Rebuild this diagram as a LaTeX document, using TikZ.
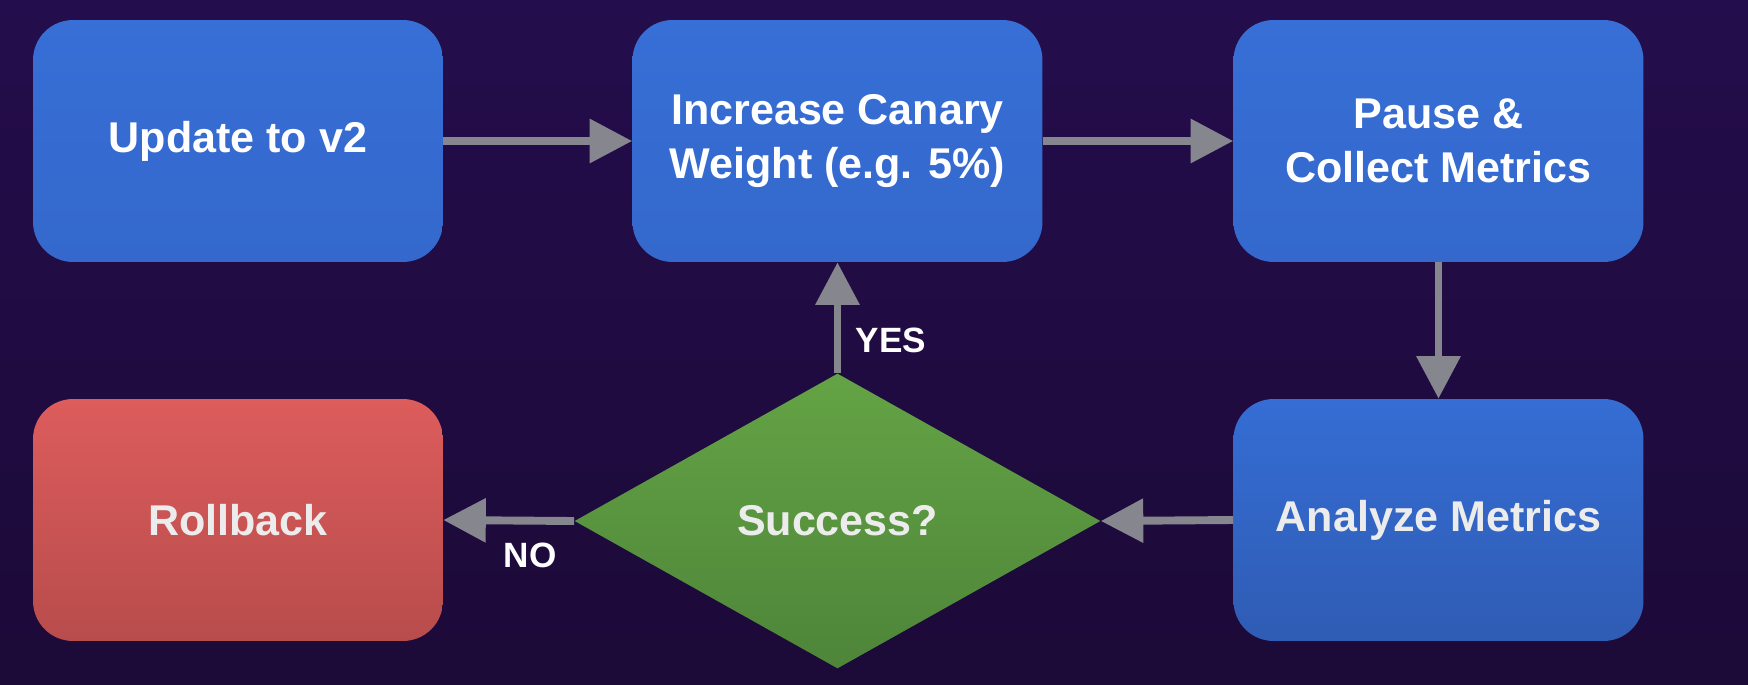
\documentclass[tikz,border=0pt]{standalone}
\usepackage{fontspec}
\setmainfont{Liberation Sans}
\usetikzlibrary{shapes.geometric,arrows.meta}
\definecolor{bgtop}{HTML}{240D4C}
\definecolor{bgbot}{HTML}{1C0A38}
\definecolor{blueT}{HTML}{376FD6}
\definecolor{blueB}{HTML}{3468CC}
\definecolor{blue2T}{HTML}{356DD4}
\definecolor{blue2B}{HTML}{2F5CB4}
\definecolor{redT}{HTML}{DD5C5C}
\definecolor{redB}{HTML}{B84C4C}
\definecolor{greenT}{HTML}{64A345}
\definecolor{greenB}{HTML}{4E8539}
\definecolor{arrowgray}{HTML}{85868E}
\definecolor{softwhite}{HTML}{ECECEC}
\begin{document}
\begin{tikzpicture}[x=0.02cm,y=-0.02cm,
  box/.style={rounded corners=0.8cm, minimum width=8.2cm, minimum height=4.84cm,
    align=center, inner sep=0pt, font=\fontsize{24.5}{31}\selectfont\bfseries, text=white},
  bluebox/.style={box, top color=blueT, bottom color=blueB},
  darkbluebox/.style={box, top color=blue2T, bottom color=blue2B, text=softwhite},
  redbox/.style={box, top color=redT, bottom color=redB, text=softwhite},
  decision/.style={diamond, minimum width=10.52cm, minimum height=5.9cm, inner sep=0pt,
    top color=greenT, bottom color=greenB, text=softwhite,
    font=\fontsize{24.5}{31}\selectfont\bfseries},
  flow/.style={draw=arrowgray, line width=4.5pt, -{Triangle[length=0.85cm,width=0.85cm]}},
  lbl/.style={text=white, font=\fontsize{20}{24}\selectfont\bfseries, inner sep=0pt}
]
\fill[top color=bgtop, bottom color=bgbot] (0,0) rectangle (1748,684);
\useasboundingbox (0,0) rectangle (1748,684);

\node[bluebox] (update) at (238,141) {Update to v2};
\node[bluebox] (increase) at (837.5,141) {Increase Canary\\Weight (e.g. 5\%)};
\node[bluebox] (pause) at (1438.5,141) {Pause \&\\Collect Metrics};
\node[darkbluebox] (analyze) at (1438.5,520) {Analyze Metrics};
\node[redbox] (rollback) at (238,520) {Rollback};
\node[decision] (success) at (837.5,521) {Success?};

\draw[flow] (update.east) -- (increase.west);
\draw[flow] (increase.east) -- (pause.west);
\draw[flow] (pause.south) -- (analyze.north);
\draw[flow] (analyze.west) -- (success.east);
\draw[flow] (success.west) -- (rollback.east);
\draw[flow] (success.north) -- (increase.south);

\node[lbl] (yes) at (891,340) {YES};
\node[lbl] (no) at (530,555) {NO};
\end{tikzpicture}
\end{document}
